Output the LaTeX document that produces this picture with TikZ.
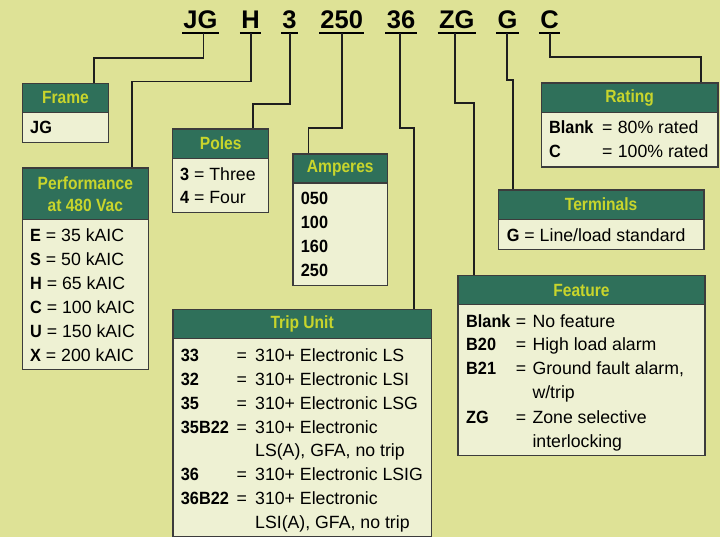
\documentclass[tikz,border=0pt]{standalone}
\usepackage{fontspec}
\setmainfont{Liberation Sans}[BoldFeatures={FakeStretch=0.92}]
\newfontfamily\hdrfont{Liberation Sans}[FakeStretch=0.88]
\newfontfamily\codefont{Liberation Sans}
\usetikzlibrary{calc}
\definecolor{bg}{HTML}{DEE296}
\definecolor{hdrgreen}{HTML}{2F705A}
\definecolor{hdrtext}{HTML}{C8D52C}
\definecolor{bodyfill}{HTML}{EEF1D3}
\definecolor{linec}{HTML}{1E1E1E}
\definecolor{boxline}{HTML}{3C3C3C}
\begin{document}
\begin{tikzpicture}[x=1pt,y=-1pt,
 hdr/.style={draw=boxline, line width=1.3pt, fill=hdrgreen, text=hdrtext, font=\hdrfont\bfseries\fontsize{17.7}{22}\selectfont, anchor=north west, inner sep=0pt, align=center},
 bodybox/.style={draw=boxline, line width=1.3pt, fill=bodyfill, anchor=north west, inner sep=0pt},
 txt/.style={anchor=base west, inner sep=0pt, font=\fontsize{17.7}{22}\selectfont},
 code/.style={anchor=base, inner sep=0pt, font=\codefont\bfseries\fontsize{25.5}{28}\selectfont},
 uline/.style={line width=2.3pt, draw=black},
 conn/.style={draw=linec, line width=1.6pt},
]
\useasboundingbox (0,0) rectangle (720,537);
\fill[bg] (0,0) rectangle (720,537);

% ---- top code ----
\node[code] (cJG) at (200.5,28.3) {JG};
\node[code] (cH)  at (250.5,28.3) {H};
\node[code] (c3)  at (289.5,28.3) {3};
\node[code] (c250) at (341.7,28.3) {250};
\node[code] (c36) at (401,28.3) {36};
\node[code] (cZG) at (456.7,28.3) {ZG};
\node[code] (cG)  at (507.5,28.3) {G};
\node[code] (cC)  at (549.5,28.3) {C};
\foreach \n in {cJG,cH,c3,c250,c36,cZG,cG,cC}{
  \draw[uline] ($(\n.base west)+(-1.2,5)$) -- ($(\n.base east)+(1.2,5)$);
}

% ---- boxes ----
\node[bodybox, minimum width=86.3pt, minimum height=30.3pt] (frameB) at (21.7,111.7) {};
\node[hdr, minimum width=86.3pt, minimum height=29pt] (frameH) at (21.7,82.7) {Frame};

\node[bodybox, minimum width=126pt, minimum height=150pt] (perfB) at (21.7,219) {};
\node[hdr, minimum width=126pt, minimum height=51.7pt] (perfH) at (21.7,167.3) {Performance\\at 480 Vac};

\node[bodybox, minimum width=96pt, minimum height=54.3pt] (polesB) at (172,157.7) {};
\node[hdr, minimum width=96pt, minimum height=29.4pt] (polesH) at (172,128.3) {Poles};

\node[bodybox, minimum width=94.7pt, minimum height=102.7pt] (ampB) at (292.3,182.3) {};
\node[hdr, minimum width=94.7pt, minimum height=29pt] (ampH) at (292.3,153.3) {Amperes};

\node[bodybox, minimum width=176.6pt, minimum height=54.6pt] (ratB) at (540.7,111.7) {};
\node[hdr, minimum width=176.6pt, minimum height=29.4pt] (ratH) at (540.7,82.3) {Rating};

\node[bodybox, minimum width=205.6pt, minimum height=30.3pt] (termB) at (497.7,218.7) {};
\node[hdr, minimum width=205.6pt, minimum height=29.4pt] (termH) at (497.7,189.3) {Terminals};

\node[bodybox, minimum width=258.4pt, minimum height=198.1pt] (tripB) at (172.3,337.7) {};
\node[hdr, minimum width=258.4pt, minimum height=28.7pt] (tripH) at (172.3,309) {Trip Unit};

\node[bodybox, minimum width=247pt, minimum height=151pt] (featB) at (457.3,304) {};
\node[hdr, minimum width=247pt, minimum height=29pt] (featH) at (457.3,275) {Feature};

% ---- connectors ----
\coordinate (uJG) at (203.3,33.3);  \coordinate (jJG) at (94,58.3);
\coordinate (uH)  at (251,33.3);    \coordinate (jH)  at (131.7,81.7);
\coordinate (u3)  at (290,33.3);    \coordinate (j3)  at (253,104);
\coordinate (u250) at (341.7,33.3); \coordinate (j250) at (308.3,128.3);
\coordinate (u36) at (400,33.3);    \coordinate (j36) at (414,128.3);
\coordinate (uZG) at (455,33.3);    \coordinate (jZG) at (474,103.3);
\coordinate (uG)  at (506.7,33.3);  \coordinate (jG)  at (513,80);
\coordinate (uC)  at (550,33.3);    \coordinate (jC)  at (700.7,57.3);
\draw[conn] (uJG) |- (jJG) -- (frameH.north -| jJG);
\draw[conn] (uH) |- (jH) -- (perfH.north -| jH);
\draw[conn] (u3) |- (j3) -- (polesH.north -| j3);
\draw[conn] (u250) |- (j250) -- (ampH.north -| j250);
\draw[conn] (u36) |- (j36) -- (tripH.north -| j36);
\draw[conn] (uZG) |- (jZG) -- (featH.north -| jZG);
\draw[conn] (uG) |- (jG) -- (termH.north -| jG);
\draw[conn] (uC) |- (jC) -- (ratH.north -| jC);

% ---- body texts ----
\node[txt] (fJG) at (30,134) {\textbf{JG}};

\node[txt] (pE) at (30,241.3) {\textbf{E} = 35 kAIC};
\node[txt] (pS) at (30,265.3) {\textbf{S} = 50 kAIC};
\node[txt] (pH) at (30,289.3) {\textbf{H} = 65 kAIC};
\node[txt] (pC) at (30,313.3) {\textbf{C} = 100 kAIC};
\node[txt] (pU) at (30,337.3) {\textbf{U} = 150 kAIC};
\node[txt] (pX) at (30,361.3) {\textbf{X} = 200 kAIC};

\node[txt] (po3) at (180,180.3) {\textbf{3} = Three};
\node[txt] (po4) at (180,203.3) {\textbf{4} = Four};

\node[txt] (a1) at (300.7,204.3) {\textbf{050}};
\node[txt] (a2) at (300.7,228.3) {\textbf{100}};
\node[txt] (a3) at (300.7,252.3) {\textbf{160}};
\node[txt] (a4) at (300.7,276.3) {\textbf{250}};

\node[txt] (r1c) at (549,133.3) {\textbf{Blank}};
\node[txt] (r1e) at (602,133.3) {=};
\node[txt] (r1d) at (617.7,133.3) {80\% rated};
\node[txt] (r2c) at (549,157.3) {\textbf{C}};
\node[txt] (r2e) at (602,157.3) {=};
\node[txt] (r2d) at (617.7,157.3) {100\% rated};

\node[txt] (t1) at (506.7,241.3) {\textbf{G} = Line/load standard};

\node[txt] (tu1c) at (180.7,361.3) {\textbf{33}};
\node[txt] (tu1e) at (236.5,361.3) {=};
\node[txt] (tu1d) at (255,361.3) {310+ Electronic LS};
\node[txt] (tu2c) at (180.7,385.2) {\textbf{32}};
\node[txt] (tu2e) at (236.5,385.2) {=};
\node[txt] (tu2d) at (255,385.2) {310+ Electronic LSI};
\node[txt] (tu3c) at (180.7,409.1) {\textbf{35}};
\node[txt] (tu3e) at (236.5,409.1) {=};
\node[txt] (tu3d) at (255,409.1) {310+ Electronic LSG};
\node[txt] (tu4c) at (180.7,433.0) {\textbf{35B22}};
\node[txt] (tu4e) at (236.5,433.0) {=};
\node[txt] (tu4d) at (255,433.0) {310+ Electronic};
\node[txt] (tu4f) at (255,456.9) {LS(A), GFA, no trip};
\node[txt] (tu5c) at (180.7,480.8) {\textbf{36}};
\node[txt] (tu5e) at (236.5,480.8) {=};
\node[txt] (tu5d) at (255,480.8) {310+ Electronic LSIG};
\node[txt] (tu6c) at (180.7,504.7) {\textbf{36B22}};
\node[txt] (tu6e) at (236.5,504.7) {=};
\node[txt] (tu6d) at (255,504.7) {310+ Electronic};
\node[txt] (tu6f) at (255,528.6) {LSI(A), GFA, no trip};

\node[txt] (fe1c) at (466,327) {\textbf{Blank}};
\node[txt] (fe1e) at (515.7,327) {=};
\node[txt] (fe1d) at (532.3,327) {No feature};
\node[txt] (fe2c) at (466,350.6) {\textbf{B20}};
\node[txt] (fe2e) at (515.7,350.6) {=};
\node[txt] (fe2d) at (532.3,350.6) {High load alarm};
\node[txt] (fe3c) at (466,374.6) {\textbf{B21}};
\node[txt] (fe3e) at (515.7,374.6) {=};
\node[txt] (fe3d) at (532.3,374.6) {Ground fault alarm,};
\node[txt] (fe3f) at (532.3,398.6) {w/trip};
\node[txt] (fe4c) at (466,423) {\textbf{ZG}};
\node[txt] (fe4e) at (515.7,423) {=};
\node[txt] (fe4d) at (532.3,423) {Zone selective};
\node[txt] (fe4f) at (532.3,447) {interlocking};
\end{tikzpicture}
\end{document}
